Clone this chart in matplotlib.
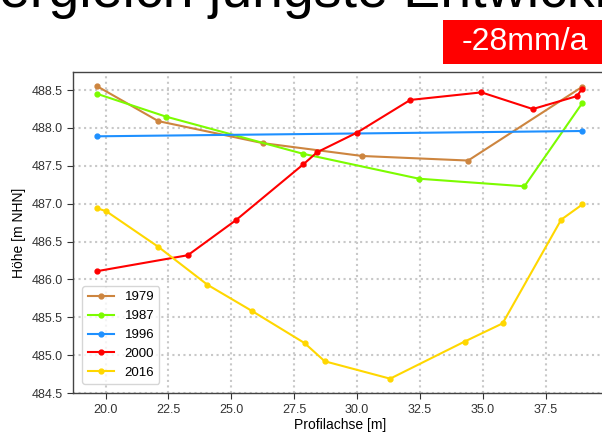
import matplotlib
matplotlib.use('Agg')
import matplotlib.pyplot as plt
from matplotlib.patches import Rectangle

# ── Data ─────────────────────────────────────────────────────
x_1979 = [19.67, 22.10, 26.25, 30.20, 34.41, 38.93]
y_1979 = [488.55, 488.09, 487.80, 487.63, 487.57, 488.54]

x_1987 = [19.67, 22.40, 27.84, 32.46, 36.65, 38.95]
y_1987 = [488.45, 488.15, 487.66, 487.33, 487.23, 488.33]

x_1996 = [19.67, 38.95]
y_1996 = [487.89, 487.96]

x_2000 = [19.67, 23.27, 25.17, 27.86, 28.41, 30.00, 32.11, 34.94, 36.98, 38.73, 38.95]
y_2000 = [486.11, 486.32, 486.78, 487.52, 487.68, 487.94, 488.37, 488.47, 488.25, 488.42, 488.52]

x_2016 = [19.67, 20.03, 22.10, 24.05, 25.84, 27.91, 28.71, 31.31, 34.27, 35.78, 38.11, 38.95]
y_2016 = [486.94, 486.90, 486.43, 485.93, 485.58, 485.16, 484.92, 484.69, 485.18, 485.42, 486.79, 486.99]

years = ["1979", "1987", "1996", "2000", "2016"]
colors = ["peru", "lawngreen", "dodgerblue", "red", "gold"]
xs = [x_1979, x_1987, x_1996, x_2000, x_2016]
ys = [y_1979, y_1987, y_1996, y_2000, y_2016]

title = "Vergleich jüngste Entwicklung"
rate_label = "-28mm/a"

plt.rcParams['font.family'] = ['Liberation Sans', 'DejaVu Sans']

W, H = 602, 434
fig = plt.figure(figsize=(W / 100, H / 100), dpi=100)
ax = fig.add_axes([73 / W, 1 - 393.3 / H, 533.6 / W, 321.6 / H])

for xv, yv, lab, col in zip(xs, ys, years, colors):
    ax.plot(xv, yv, color=col, linewidth=1.5, marker="o", markersize=3.5, label=lab)

ax.grid(True, color="#c8c8c8", linestyle=":", linewidth=1.5)
ax.set_axisbelow(True)
for sp in ax.spines.values():
    sp.set_color("#444444")
    sp.set_linewidth(1.0)
ax.tick_params(colors="#333333", labelsize=9, length=4)
ax.set_xlabel("Profilachse [m]", fontsize=10, labelpad=2)
ax.set_ylabel("Höhe [m NHN]", fontsize=10)

leg = ax.legend(loc="lower left", fontsize=9.5, frameon=True, fancybox=True,
                borderaxespad=0.7)
leg.get_frame().set_edgecolor("#cccccc")

# big title, partly cut off at the top of the picture
fig.text(-35 / W, 1 - 7 / H, title, fontsize=40, ha="left", va="baseline")

# red rate box
fig.add_artist(Rectangle((443 / W, 1 - 64 / H), 170 / W, 44 / H,
                         transform=fig.transFigure, facecolor="red",
                         edgecolor="none"))
fig.text(525 / W, 1 - 42 / H, rate_label, fontsize=23, color="white",
         ha="center", va="center")

plt.savefig("out.png", dpi=100)
plt.close()
